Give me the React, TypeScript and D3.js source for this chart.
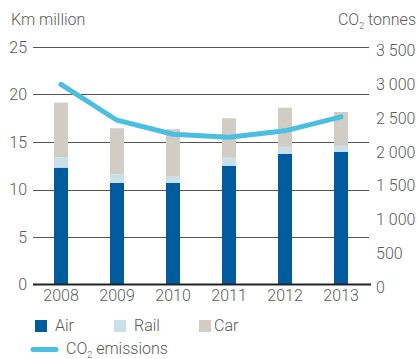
import { useEffect, useRef } from 'react';
import * as d3 from 'd3';

const years = ['2008', '2009', '2010', '2011', '2012', '2013'];
const air = [12.3, 10.7, 10.7, 12.5, 13.75, 13.95];
const rail = [1.1, 0.9, 0.7, 0.85, 0.75, 0.65];
const car = [5.75, 4.85, 4.95, 4.15, 4.1, 3.55];
const co2 = [2950, 2420, 2215, 2170, 2265, 2470];

const leftTicks = [0, 5, 10, 15, 20, 25];
const rightTicks = [0, 500, 1000, 1500, 2000, 2500, 3000, 3500];

const seriesNames = ['Air', 'Rail', 'Car'];
const colors = ['#005b9f', '#c9e0e8', '#d1ccc4'];
const lineColor = '#4bbfdf';

const width = 417;
const height = 359;
const font = 'Roboto, "Liberation Sans", sans-serif';
const textColor = '#5a5a5a';

const fmt = (v: number) => d3.format(',')(v).replace(/,/g, ' ');

const App = () => {
  const svgRef = useRef<SVGSVGElement>(null);

  useEffect(() => {
    if (!svgRef.current) return;
    document.body.style.margin = '0';

    const svg = d3.select(svgRef.current);
    svg.selectAll('*').remove();

    const x = d3.scaleBand<string>()
      .domain(years)
      .range([33, 369])
      .paddingInner(0.75)
      .paddingOuter(0.375);

    const yL = d3.scaleLinear().domain([0, 25]).range([284.5, 47]);
    const yR = d3.scaleLinear().domain([0, 3500]).range([284.5, 47]);

    // gridlines
    svg.append('g')
      .selectAll('line')
      .data(leftTicks.filter(d => d > 0))
      .enter().append('line')
      .attr('x1', 33)
      .attr('x2', 369)
      .attr('y1', d => Math.round(yL(d)) + 0.5)
      .attr('y2', d => Math.round(yL(d)) + 0.5)
      .attr('stroke', '#555')
      .attr('stroke-width', 1);

    // stacked bars
    const rows = years.map((y, i) => ({ year: y, Air: air[i], Rail: rail[i], Car: car[i] }));
    const stack = d3.stack<any>().keys(seriesNames)(rows);

    svg.append('g')
      .selectAll('g')
      .data(stack)
      .enter().append('g')
      .attr('fill', (_d, i) => colors[i])
      .selectAll('rect')
      .data(d => d)
      .enter().append('rect')
      .attr('x', d => x(d.data.year) || 0)
      .attr('width', x.bandwidth())
      .attr('y', d => yL(d[1]))
      .attr('height', d => yL(d[0]) - yL(d[1]));

    // baseline
    svg.append('line')
      .attr('x1', 33)
      .attr('x2', 371)
      .attr('y1', yL(0))
      .attr('y2', yL(0))
      .attr('stroke', '#222')
      .attr('stroke-width', 2);

    // CO2 line
    const line = d3.line<number>()
      .x((_d, i) => (x(years[i]) || 0) + x.bandwidth() / 2)
      .y(d => yR(d));

    svg.append('path')
      .datum(co2)
      .attr('d', line)
      .attr('fill', 'none')
      .attr('stroke', lineColor)
      .attr('stroke-width', 5)
      .attr('stroke-linecap', 'round');

    const text = (sel: any) => sel
      .attr('font-family', font)
      .attr('font-weight', 300)
      .attr('font-size', 16)
      .attr('fill', textColor);

    // left axis labels
    svg.append('g')
      .selectAll('text')
      .data(leftTicks)
      .enter().append('text')
      .call(text)
      .attr('x', 27)
      .attr('y', d => yL(d))
      .attr('dy', '0.36em')
      .attr('text-anchor', 'end')
      .text(d => d);

    // right axis labels
    svg.append('g')
      .selectAll('text')
      .data(rightTicks)
      .enter().append('text')
      .call(text)
      .attr('x', 376)
      .attr('y', d => yR(d) + 3)
      .attr('dy', '0.36em')
      .text(d => fmt(d));

    // x labels
    svg.append('g')
      .selectAll('text')
      .data(years)
      .enter().append('text')
      .call(text)
      .attr('x', d => (x(d) || 0) + x.bandwidth() / 2)
      .attr('y', 301)
      .attr('text-anchor', 'middle')
      .text(d => d);

    // axis titles
    svg.append('text')
      .call(text)
      .attr('x', 11)
      .attr('y', 25)
      .text('Km million');

    const rt = svg.append('text')
      .call(text)
      .attr('x', 416)
      .attr('y', 25)
      .attr('text-anchor', 'end');
    rt.append('tspan').text('CO');
    rt.append('tspan').attr('font-size', 9).attr('dy', 4).text('2');
    rt.append('tspan').attr('dy', -4).text(' tonnes');

    // legend
    const legendX = [35, 114, 199];
    const legend = svg.append('g');
    seriesNames.forEach((name, i) => {
      legend.append('rect')
        .attr('x', legendX[i])
        .attr('y', 320)
        .attr('width', 12)
        .attr('height', 12)
        .attr('fill', colors[i]);
      legend.append('text')
        .call(text)
        .attr('x', legendX[i] + (i === 2 ? 15 : 20))
        .attr('y', 331)
        .text(name);
    });

    legend.append('line')
      .attr('x1', 33)
      .attr('x2', 56)
      .attr('y1', 349.5)
      .attr('y2', 349.5)
      .attr('stroke', lineColor)
      .attr('stroke-width', 5)
      .attr('stroke-linecap', 'round');

    const lt = legend.append('text')
      .call(text)
      .attr('x', 66)
      .attr('y', 354);
    lt.append('tspan').text('CO');
    lt.append('tspan').attr('font-size', 9).attr('dy', 4).text('2');
    lt.append('tspan').attr('dy', -4).text(' emissions');
  }, []);

  return <svg ref={svgRef} width={width} height={height} style={{ display: 'block', background: 'white' }} />;
};

export default App;
